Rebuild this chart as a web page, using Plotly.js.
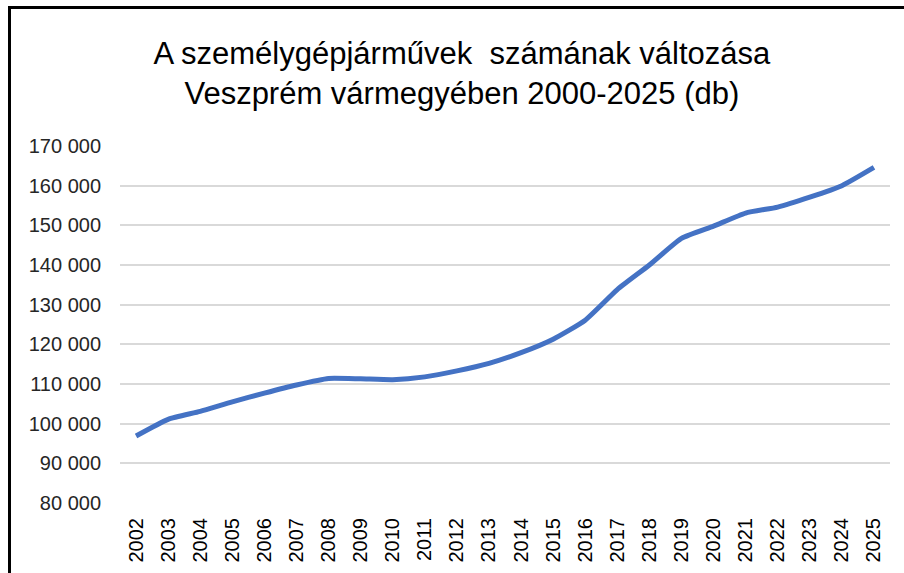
<!DOCTYPE html>
<html>
<head>
<meta charset="utf-8">
<script src="https://cdn.plot.ly/plotly-3.0.1.min.js"></script>
<style>
  html, body { margin: 0; padding: 0; background: #ffffff; }
  #wrap { position: relative; width: 904px; height: 573px; overflow: hidden; }
  #chart { width: 904px; height: 573px; }
  #frame { position: absolute; left: 8px; top: 6px; width: 1000px; height: 1000px;
           border-left: 3px solid #000; border-top: 3px solid #000; pointer-events: none; }
</style>
</head>
<body>
<div id="wrap">
  <div id="chart"></div>
  <div id="frame"></div>
</div>
<script>
const years = ["2002","2003","2004","2005","2006","2007","2008","2009","2010","2011","2012","2013",
               "2014","2015","2016","2017","2018","2019","2020","2021","2022","2023","2024","2025"];
const cars = [96900, 101100, 103100, 105500, 107700, 109750, 111400, 111300, 111100, 111800, 113300, 115200,
              117900, 121300, 126100, 133800, 140000, 146700, 149800, 153100, 154600, 157100, 160000, 164600];
const yTickVals = [80000, 90000, 100000, 110000, 120000, 130000, 140000, 150000, 160000, 170000];
const yTickText = ["80 000", "90 000", "100 000", "110 000", "120 000", "130 000", "140 000", "150 000", "160 000", "170 000"];
const titleText = "A személygépjárművek\u00a0 számának változása<br>Veszprém vármegyében 2000-2025 (db)";

const trace = {
  x: years,
  y: cars,
  type: 'scatter',
  mode: 'lines',
  line: { color: '#4472C4', width: 5, shape: 'spline', smoothing: 0.5 },
  hoverinfo: 'x+y'
};

const layout = {
  width: 904,
  height: 573,
  paper_bgcolor: '#ffffff',
  plot_bgcolor: '#ffffff',
  margin: { l: 120, r: 14, t: 146, b: 70 },
  showlegend: false,
  title: {
    text: titleText,
    font: { family: 'Liberation Sans, Arial, sans-serif', size: 31, color: '#000000' },
    x: 0.444,
    xanchor: 'center',
    xref: 'paper',
    y: 0.888,
    yanchor: 'top',
    yref: 'container'
  },
  xaxis: {
    type: 'category',
    range: [-0.5, 23.5],
    tickangle: -90,
    showgrid: false,
    zeroline: false,
    showline: false,
    ticks: '',
    ticklabelstandoff: 10,
    tickfont: { family: 'Liberation Sans, Arial, sans-serif', size: 20, color: '#000000' }
  },
  yaxis: {
    range: [80000, 170000],
    tickvals: yTickVals,
    ticktext: yTickText,
    showgrid: true,
    gridcolor: '#d9d9d9',
    gridwidth: 2,
    zeroline: false,
    showline: false,
    ticks: '',
    ticklabelstandoff: 18,
    tickfont: { family: 'Liberation Sans, Arial, sans-serif', size: 20, color: '#262626' }
  }
};

Plotly.newPlot('chart', [trace], layout, { displayModeBar: false, staticPlot: true });
</script>
</body>
</html>
